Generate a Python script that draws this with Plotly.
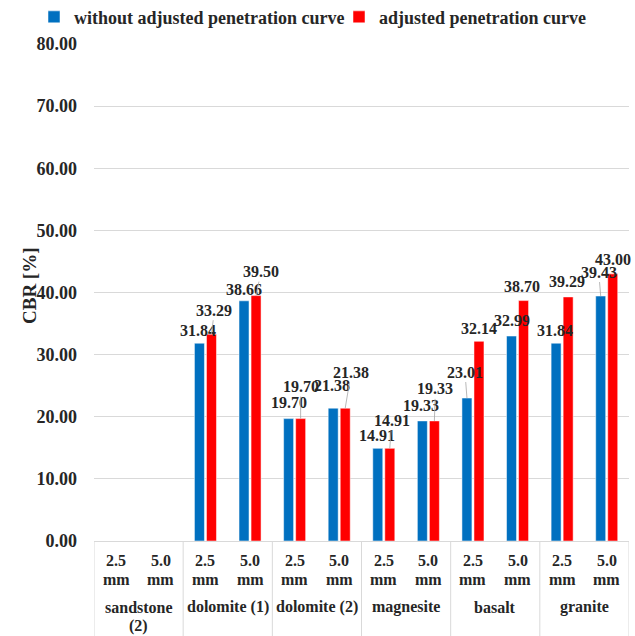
import plotly.graph_objects as go

# CBR values
materials = ['sandstone (2)', 'dolomite (1)', 'dolomite (2)', 'magnesite', 'basalt', 'granite']
depths = ['2.5', '5.0']
cbr_without = [None, None, 31.84, 38.66, 19.70, 21.38, 14.91, 19.33, 23.01, 32.99, 31.84, 39.43]
cbr_adjusted = [None, None, 33.29, 39.50, 19.70, 21.38, 14.91, 19.33, 32.14, 38.70, 39.29, 43.00]
yticks = [0, 10, 20, 30, 40, 50, 60, 70, 80]

# label offsets from bar top (px), and whether a leader line is drawn
off_without = [None, None, (-1, -13), (0, -11), (0, -16), (-1, -23), (-1, -13), (-1, -15),
               (-2, -26), (0, -16), (-1, -13), (-2, -24)]
lead_without = [0, 0, 0, 0, 0, 0, 0, 0, 1, 0, 0, 1]
off_adjusted = [None, None, (3, -24), (5, -24), (0, -32), (6, -36), (2, -28), (1, -32),
                (0, -13), (-2, -14), (-1, -15), (0, -14)]
lead_adjusted = [0, 0, 1, 1, 1, 1, 1, 1, 0, 0, 0, 0]

cats = [m + '|' + d for m in materials for d in depths]

FONT = '"Liberation Serif", "Times New Roman", serif'
TXT = '#262626'
GRID = '#d9d9d9'

fig = go.Figure()
fig.add_trace(go.Bar(x=cats, y=cbr_without, name='<b>without adjusted penetration curve</b>',
                     marker=dict(color='#0070C0', line=dict(color='white', width=0.5)),
                     legend='legend'))
fig.add_trace(go.Bar(x=cats, y=cbr_adjusted, name='<b>adjusted penetration curve</b>',
                     marker=dict(color='#FF0000', line=dict(color='white', width=0.5)),
                     legend='legend2'))

annotations = []
for vals, offs, leads, side in [(cbr_without, off_without, lead_without, -6),
                                (cbr_adjusted, off_adjusted, lead_adjusted, 6)]:
    for c, v, o, ld in zip(cats, vals, offs, leads):
        if v is None:
            continue
        dx, dy = o
        a = dict(x=c, y=v, xref='x', yref='y', text='<b>%.2f</b>' % v,
                 font=dict(family=FONT, size=16, color=TXT))
        if ld:
            a.update(showarrow=True, arrowhead=0, arrowwidth=0.8, arrowcolor='#a6a6a6',
                     ax=dx, ay=dy, xshift=side, standoff=0)
        else:
            a.update(showarrow=False, xshift=side + dx, yshift=-dy)
        annotations.append(a)

# custom category labels under the axis, one text row per annotation
def under_axis(x, lines, top):
    for k, t in enumerate(lines):
        annotations.append(dict(x=x, y=0, xref='x', yref='paper', yanchor='middle',
                                yshift=-(top + 19 * k), text='<b>' + t + '</b>', showarrow=False,
                                font=dict(family=FONT, size=16, color=TXT)))

for i, c in enumerate(cats):
    under_axis(i, [depths[i % 2], 'mm'], 19)
for g, m in enumerate(materials):
    rows = ['sandstone', '(2)'] if m == 'sandstone (2)' else [m]
    under_axis(2 * g + 0.5, rows, 66)

plot_w = 635 - 94 - 6

# y axis title, placed where the original has it
annotations.append(dict(x=(29 - 94) / plot_w, y=(541 - 286) / 497, xref='paper', yref='paper',
                        xanchor='center', yanchor='middle',
                        text='<b>CBR [%]</b>', textangle=-90, showarrow=False,
                        font=dict(family=FONT, size=19, color=TXT)))

shapes = []
for k in range(len(materials) + 1):
    shapes.append(dict(type='line', xref='x', yref='paper', x0=2 * k - 0.5, x1=2 * k - 0.5,
                       y0=0, y1=-0.2, line=dict(color=GRID, width=1)))

leg = dict(orientation='h', xanchor='left', yanchor='middle', y=1.054,
           font=dict(family=FONT, size=18, color=TXT), itemwidth=30,
           bgcolor='rgba(0,0,0,0)', borderwidth=0)

fig.update_layout(
    width=635, height=636,
    margin=dict(l=94, r=6, t=44, b=95, autoexpand=False),
    plot_bgcolor='white', paper_bgcolor='white',
    barmode='group', bargap=0.46, bargroupgap=0.17,
    font=dict(family=FONT, color=TXT),
    showlegend=True,
    legend=dict(leg, x=(34 - 94) / plot_w),
    legend2=dict(leg, x=(339 - 94) / plot_w),
    annotations=annotations,
    shapes=shapes,
)
fig.update_xaxes(showticklabels=False, showgrid=False, showline=True, linecolor=GRID,
                 ticks='', range=[-0.5, 11.5])
fig.update_yaxes(range=[0, 80], tickvals=yticks, ticktext=['<b>%.2f</b>' % t for t in yticks],
                 showgrid=True, gridcolor=GRID, zeroline=False, showline=False,
                 tickfont=dict(family=FONT, size=18, color=TXT),
                 ticklabelstandoff=16)

fig.write_html('out.html', config={'displayModeBar': False},
               post_script="document.body.style.margin='0';")
